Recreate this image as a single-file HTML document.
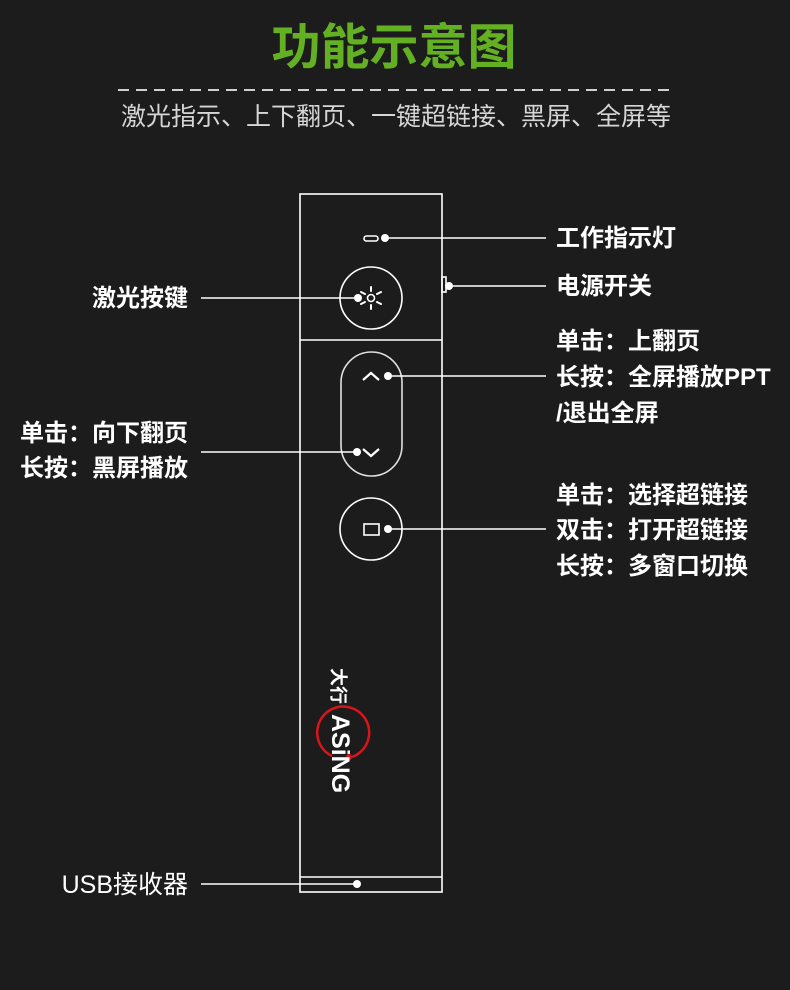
<!DOCTYPE html>
<html><head><meta charset="utf-8"><style>
html,body{margin:0;padding:0;background:#1c1c1c;}
svg{display:block}
text{font-family:"Liberation Sans","Noto Sans CJK SC",sans-serif;}
</style></head><body>
<svg width="790" height="990" viewBox="0 0 790 990" xmlns="http://www.w3.org/2000/svg">
<rect width="790" height="990" fill="#1c1c1c"/>
<text x="394" y="64" text-anchor="middle" font-size="49" font-weight="bold" fill="#63b022">功能示意图</text>
<line x1="118" y1="90" x2="672" y2="90" stroke="#cfcfcf" stroke-width="2" stroke-dasharray="11,7"/>
<text x="396" y="125" text-anchor="middle" font-size="25" fill="#d6d6d6">激光指示、上下翻页、一键超链接、黑屏、全屏等</text>

<g stroke="#fff" fill="none" stroke-width="1.6">
<rect x="300" y="194" width="142" height="698"/>
<line x1="300" y1="340" x2="442" y2="340"/>
<line x1="300" y1="877" x2="442" y2="877"/>
<rect x="364" y="236" width="14" height="5" rx="2.5"/>
<rect x="442" y="277" width="4" height="15"/>
<circle cx="371" cy="298" r="31"/>
<circle cx="371" cy="298" r="3.5"/>
<rect x="341" y="352" width="61" height="124" rx="30.5" stroke="#e0e0e0"/>
<polyline points="363,380 371,373 379,380" stroke-width="2.2"/>
<polyline points="363,449 371,456 379,449" stroke-width="2.2"/>
<circle cx="371" cy="529" r="31"/>
<rect x="364" y="524" width="15" height="11"/>
</g>
<g stroke="#fff" stroke-width="2" stroke-linecap="round">
<line x1="371" y1="287" x2="371" y2="291"/>
<line x1="371" y1="305" x2="371" y2="309"/>
<line x1="377" y1="294" x2="381" y2="292"/>
<line x1="377" y1="302" x2="381" y2="304"/>
<line x1="365" y1="294" x2="361" y2="292"/>
<line x1="365" y1="302" x2="361" y2="304"/>
</g>
<g stroke="#fff" stroke-width="1.6">
<line x1="385" y1="238" x2="546" y2="238"/>
<line x1="449" y1="286" x2="546" y2="286"/>
<line x1="201" y1="298" x2="358" y2="298"/>
<line x1="388" y1="376" x2="546" y2="376"/>
<line x1="201" y1="452" x2="357" y2="452"/>
<line x1="388" y1="529" x2="546" y2="529"/>
<line x1="201" y1="884" x2="357" y2="884"/>
</g>
<g fill="#fff">
<circle cx="385" cy="238" r="4"/>
<circle cx="449" cy="286" r="4"/>
<circle cx="358" cy="298" r="4"/>
<circle cx="388" cy="376" r="4"/>
<circle cx="357" cy="452" r="4"/>
<circle cx="388" cy="529" r="4"/>
<circle cx="357" cy="884" r="4"/>
</g>

<!-- logo -->
<path d="M 332 756 A 26 26 0 1 1 352 757" fill="none" stroke="#d9151b" stroke-width="2.5"/>
<circle cx="349" cy="757" r="3" fill="#d9151b"/>
<g transform="translate(332,668) rotate(90)">
<text x="0" y="0" font-size="18" fill="#fff" font-weight="bold">大行</text>
<text x="46" y="0" font-size="25" fill="#fff" font-weight="bold">ASiNG</text>
</g>

<g font-size="24" fill="#fff" font-weight="bold">
<text x="556" y="246">工作指示灯</text>
<text x="556" y="294">电源开关</text>
<text x="556" y="349">单击：上翻页</text>
<text x="556" y="385">长按：全屏播放PPT</text>
<text x="556" y="421">/退出全屏</text>
<text x="556" y="503">单击：选择超链接</text>
<text x="556" y="538">双击：打开超链接</text>
<text x="556" y="574">长按：多窗口切换</text>
<text x="188" y="306" text-anchor="end">激光按键</text>
<text x="188" y="441" text-anchor="end">单击：向下翻页</text>
<text x="188" y="476" text-anchor="end">长按：黑屏播放</text>
<text x="188" y="893" text-anchor="end" font-size="25" font-weight="normal">USB接收器</text>
</g>
</svg>
</body></html>
